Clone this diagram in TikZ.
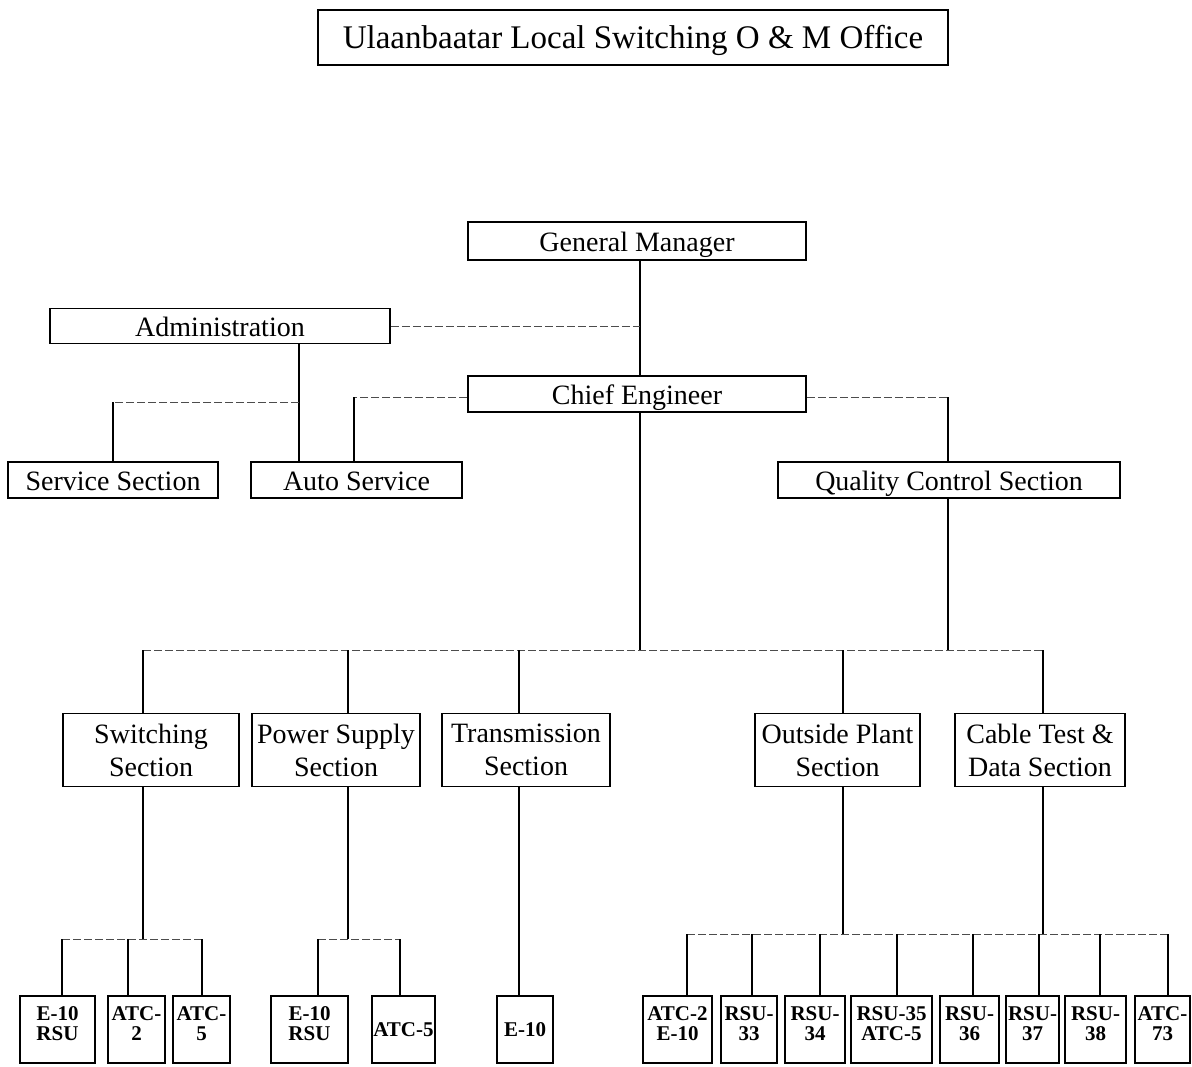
\documentclass[tikz,border=0pt]{standalone}
\usepackage{fontspec}
\setmainfont{Liberation Serif}

\begin{document}
\begin{tikzpicture}[x=0.5pt,y=-0.5pt,
  unit/.style={draw,line width=0.9pt,inner sep=0pt,align=center,font=\fontsize{14}{16.5}\selectfont},
  one/.style={text height=1.05em,text depth=0em},
  site/.style={draw,line width=0.9pt,inner sep=0pt,align=center,minimum height=33.5pt,text depth=6pt,font=\fontsize{10.5}{10}\selectfont\bfseries},
  flat/.style={text depth=0pt},
  link/.style={line width=1pt},
  dline/.style={line width=0.4pt,dash pattern=on 4pt off 1.5pt,black!70}]
\useasboundingbox (0,0) rectangle (1192,1066);
% offices
\node [unit,one,minimum width=315pt,minimum height=27.5pt,font=\fontsize{16.5}{18}\selectfont] (title) at (633,37.5) {Ulaanbaatar Local Switching O \& M Office};
\node [unit,one,minimum width=169pt,minimum height=19pt] (gm) at (637,241) {General Manager};
\node [unit,one,minimum width=170pt,minimum height=17.5pt] (adm) at (220,326) {Administration};
\node [unit,one,minimum width=169pt,minimum height=18pt] (ce) at (637,394) {Chief Engineer};
\node [unit,one,minimum width=105pt,minimum height=18pt] (serv) at (113,480) {Service Section};
\node [unit,one,minimum width=105.5pt,minimum height=18pt] (auto) at (356.5,480) {Auto Service};
\node [unit,one,minimum width=171pt,minimum height=18pt] (qcs) at (949,480) {Quality Control Section};
% sections
\node [unit,minimum width=88pt,minimum height=36.5pt] (sw) at (151,750) {Switching\\Section};
\node [unit,minimum width=84pt,minimum height=36.5pt] (ps) at (336,750) {Power Supply\\Section};
\node [unit,minimum width=84pt,minimum height=36.5pt] (tr) at (526,750) {Transmission\\Section};
\node [unit,minimum width=82.5pt,minimum height=36.5pt] (op) at (837.5,750) {Outside Plant\\Section};
\node [unit,minimum width=85pt,minimum height=36.5pt] (ct) at (1040,750) {Cable Test \&\\Data Section};
% exchanges
\node [site,minimum width=37.5pt] (e10a) at (57.5,1029.5) {E-10\\RSU};
\node [site,minimum width=28.5pt] (atc2a) at (136.5,1029.5) {ATC-\\2};
\node [site,minimum width=28.5pt] (atc5a) at (201.5,1029.5) {ATC-\\5};
\node [site,minimum width=38.5pt] (e10b) at (309.5,1029.5) {E-10\\RSU};
\node [site,flat,minimum width=31.5pt] (atc5b) at (403.5,1029.5) {ATC-5};
\node [site,flat,minimum width=28pt] (e10c) at (525,1029.5) {E-10};
\node [site,minimum width=34.5pt] (atc2e) at (677.5,1029.5) {ATC-2\\E-10};
\node [site,minimum width=28pt] (rsu33) at (749,1029.5) {RSU-\\33};
\node [site,minimum width=30pt] (rsu34) at (815,1029.5) {RSU-\\34};
\node [site,minimum width=40.5pt] (rsu35) at (891.5,1029.5) {RSU-35\\ATC-5};
\node [site,minimum width=29.5pt] (rsu36) at (969.5,1029.5) {RSU-\\36};
\node [site,minimum width=26.5pt] (rsu37) at (1032.5,1029.5) {RSU-\\37};
\node [site,minimum width=30.5pt] (rsu38) at (1095.5,1029.5) {RSU-\\38};
\node [site,minimum width=27.5pt] (atc73) at (1162.5,1029.5) {ATC-\\73};
% bus points
\coordinate (gmdrop) at (640,0);
\coordinate (admdrop) at (299,0);
\coordinate (abus) at (299,402);
\coordinate (cebus) at (354,397);
\coordinate (qbus) at (948,397);
\coordinate (sbus) at (143,650);
\coordinate (swbus) at (143,939);
\coordinate (psbus) at (348,939);
\coordinate (obus) at (843,934);
\coordinate (cbus) at (1043,934);
% top part
\draw [link] (gmdrop |- gm.south) -- (gmdrop |- ce.north);
\draw [dline] (adm) -- (adm -| gmdrop);
\draw [link] (admdrop |- adm.south) -- (admdrop |- auto.north);
\draw [dline] (abus) -- (abus -| serv);
\draw [link] (abus -| serv) -- (serv);
\draw [dline] (ce.west |- cebus) -- (cebus);
\draw [link] (cebus) -- (cebus |- auto.north);
\draw [dline] (ce.east |- qbus) -- (qbus);
\draw [link] (qbus) -- (qbus |- qcs.north);
% sections
\draw [link] (gmdrop |- ce.south) -- (gmdrop |- sbus);
\draw [link] (qbus |- qcs.south) -- (qbus |- sbus);
\draw [dline] (sbus) -- (sbus -| cbus);
\foreach \s/\x in {sw/143,ps/348,tr/519,op/843,ct/1043}
  \draw [link] (\x,650) -- (\x,0 |- \s.north);
% exchanges
\draw [link] (swbus |- sw.south) -- (swbus);
\draw [dline] (62,939) -- (202,939);
\foreach \s/\x in {e10a/62,atc2a/128,atc5a/202}
  \draw [link] (\x,939) -- (\x,0 |- \s.north);
\draw [link] (psbus |- ps.south) -- (psbus);
\draw [dline] (318,939) -- (400,939);
\foreach \s/\x in {e10b/318,atc5b/400}
  \draw [link] (\x,939) -- (\x,0 |- \s.north);
\draw [link] (519,0 |- tr.south) -- (519,0 |- e10c.north);
\draw [link] (obus |- op.south) -- (obus);
\draw [link] (cbus |- ct.south) -- (cbus);
\draw [dline] (687,934) -- (1168,934);
\foreach \s/\x in {atc2e/687,rsu33/752,rsu34/820,rsu35/897,rsu36/973,rsu37/1039,rsu38/1100,atc73/1168}
  \draw [link] (\x,934) -- (\x,0 |- \s.north);
\end{tikzpicture}
\end{document}
